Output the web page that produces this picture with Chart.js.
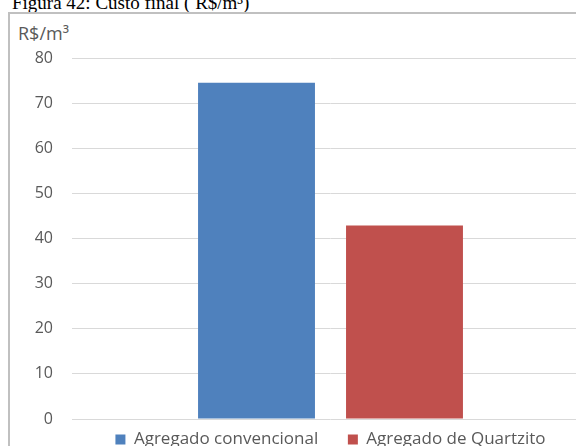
<!DOCTYPE html>
<html>
<head>
<meta charset="utf-8">
<script src="https://cdn.jsdelivr.net/npm/chart.js@4"></script>
<style>
  html, body { margin: 0; padding: 0; width: 576px; height: 446px; overflow: hidden; background: #fff; }
  #caption { position: absolute; left: 12px; top: -7px; font-family: "Liberation Serif", serif; font-size: 19px; line-height: 20px; color: #000; white-space: nowrap; }
  #frame { position: absolute; left: 8px; top: 12px; width: 600px; height: 460px; border: 2px solid #c0c0c0; box-sizing: border-box; }
  #unit { position: absolute; left: 18px; top: 23.5px; font-family: "Open Sans", sans-serif; font-size: 18px; line-height: 18px; color: #595959; }
  #wrap { position: absolute; left: 10px; top: 14px; width: 642px; height: 444px; }
</style>
</head>
<body>
<div id="caption">Figura 42: Custo final ( R$/m³)</div>
<div id="frame"></div>
<div id="unit">R$/m³</div>
<div id="wrap"><canvas id="chart"></canvas></div>
<script>
// values
var categories = [""];
var seriesNames = ["Agregado convencional", "Agregado de Quartzito"];
var convencional = [74.5];
var quartzito = [42.9];
var yTicks = [0, 10, 20, 30, 40, 50, 60, 70, 80];

var canvas = document.getElementById("chart");
var config = {
    type: "bar",
    data: {
        labels: categories,
        datasets: [
            { label: seriesNames[0], data: convencional, backgroundColor: "#4f81bd" },
            { label: seriesNames[1], data: quartzito, backgroundColor: "#c0504d" }
        ]
    },
    options: {
        responsive: true,
        maintainAspectRatio: false,
        animation: false,
        categoryPercentage: 0.5725,
        barPercentage: 0.79,
        layout: { padding: { top: 44, right: 1, left: 0, bottom: 0 } },
        plugins: {
            tooltip: { enabled: false },
            legend: {
                position: "bottom",
                labels: {
                    boxWidth: 10,
                    boxHeight: 10,
                    padding: 12,
                    color: "#595959",
                    font: { family: "Open Sans", size: 17 },
                    generateLabels: function (chart) {
                        var items = Chart.defaults.plugins.legend.labels.generateLabels(chart);
                        items[0].text = items[0].text + "\u00a0\u00a0\u00a0\u00a0";
                        return items;
                    }
                }
            }
        },
        scales: {
            x: { display: false },
            y: {
                min: yTicks[0],
                max: yTicks[yTicks.length - 1],
                afterBuildTicks: function (scale) {
                    scale.ticks = yTicks.map(function (v) { return { value: v }; });
                },
                afterFit: function (scale) { scale.width = 62; },
                border: { display: false },
                grid: { color: "#d9d9d9", drawTicks: false },
                ticks: { padding: 19, color: "#595959", font: { family: "Open Sans", size: 16 } }
            },
            // empty axis on the right (off screen) so the legend centres under the plot
            yRight: {
                display: true,
                position: "right",
                min: 0,
                max: 80,
                afterFit: function (scale) { scale.width = 62; },
                border: { display: false },
                grid: { display: false },
                ticks: { display: false }
            }
        }
    }
};

var barchart = new Chart(canvas, config);
</script>
</body>
</html>
